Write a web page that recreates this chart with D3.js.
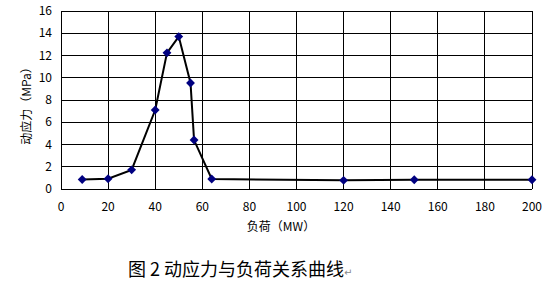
<!DOCTYPE html>
<html>
<head>
<meta charset="utf-8">
<script src="https://cdn.jsdelivr.net/npm/d3@7"></script>
<style>
  body { margin: 0; background: #fff; }
  svg text { font-family: "Noto Sans CJK SC", "DejaVu Sans", sans-serif; }
</style>
</head>
<body>
<div id="chart"></div>
<script>
// load (MW) and dynamic stress (MPa)
const load = [9, 20, 30, 40, 45, 50, 55, 56.5, 64, 120, 150, 200];
const stress = [0.85, 0.92, 1.72, 7.1, 12.24, 13.7, 9.53, 4.4, 0.9, 0.78, 0.83, 0.83];
const xTicks = [0, 20, 40, 60, 80, 100, 120, 140, 160, 180, 200];
const yTicks = [0, 2, 4, 6, 8, 10, 12, 14, 16];

const width = 544, height = 283;
const m = { left: 61, right: 12, top: 11, bottom: 94 };

const svg = d3.select('#chart')
  .append('svg')
  .attr('width', width)
  .attr('height', height);

const x = d3.scaleLinear().domain([0, 200]).range([m.left, width - m.right]);
const y = d3.scaleLinear().domain([0, 16]).range([height - m.bottom, m.top]);

// grid
svg.append('g')
  .selectAll('line')
  .data(xTicks)
  .join('line')
  .attr('x1', d => x(d)).attr('x2', d => x(d))
  .attr('y1', y(0)).attr('y2', y(16))
  .attr('stroke', '#000').attr('stroke-width', 1).attr('shape-rendering', 'crispEdges');

svg.append('g')
  .selectAll('line')
  .data(yTicks)
  .join('line')
  .attr('x1', x(0)).attr('x2', x(200))
  .attr('y1', d => y(d)).attr('y2', d => y(d))
  .attr('stroke', '#000').attr('stroke-width', 1).attr('shape-rendering', 'crispEdges');

// tick labels
svg.append('g')
  .selectAll('text')
  .data(yTicks)
  .join('text')
  .attr('x', x(0) - 9)
  .attr('y', d => y(d))
  .attr('dy', '0.35em')
  .attr('text-anchor', 'end')
  .attr('font-size', 12)
  .text(d => d);

svg.append('g')
  .selectAll('text')
  .data(xTicks)
  .join('text')
  .attr('x', d => x(d))
  .attr('y', y(0) + 18)
  .attr('dy', '0.35em')
  .attr('text-anchor', 'middle')
  .attr('font-size', 12)
  .text(d => d);

// axis titles
svg.append('text')
  .attr('x', 281)
  .attr('y', 227)
  .attr('dy', '0.35em')
  .attr('text-anchor', 'middle')
  .attr('font-size', 12)
  .text('负荷（MW）');

svg.append('text')
  .attr('transform', 'translate(27,103) rotate(-90)')
  .attr('dy', '0.35em')
  .attr('text-anchor', 'middle')
  .attr('font-size', 12)
  .text('动应力（MPa）');

// line
const pts = load.map((d, i) => [d, stress[i]]);
svg.append('path')
  .datum(pts)
  .attr('fill', 'none')
  .attr('stroke', '#000')
  .attr('stroke-width', 2)
  .attr('d', d3.line().x(d => x(d[0])).y(d => y(d[1])));

// markers
svg.append('g')
  .selectAll('path')
  .data(pts)
  .join('path')
  .attr('transform', d => `translate(${x(d[0])},${y(d[1])})`)
  .attr('d', d3.symbol().type(d3.symbolDiamond2).size(50))
  .attr('fill', '#000080');

// caption
const cap = svg.append('text')
  .attr('x', 128)
  .attr('y', 270)
  .attr('dy', '0.35em')
  .attr('font-size', 18);
cap.append('tspan').text('图 2 动应力与负荷关系曲线');
cap.append('tspan').attr('font-size', 10).attr('fill', '#888').text('↵');
</script>
</body>
</html>
